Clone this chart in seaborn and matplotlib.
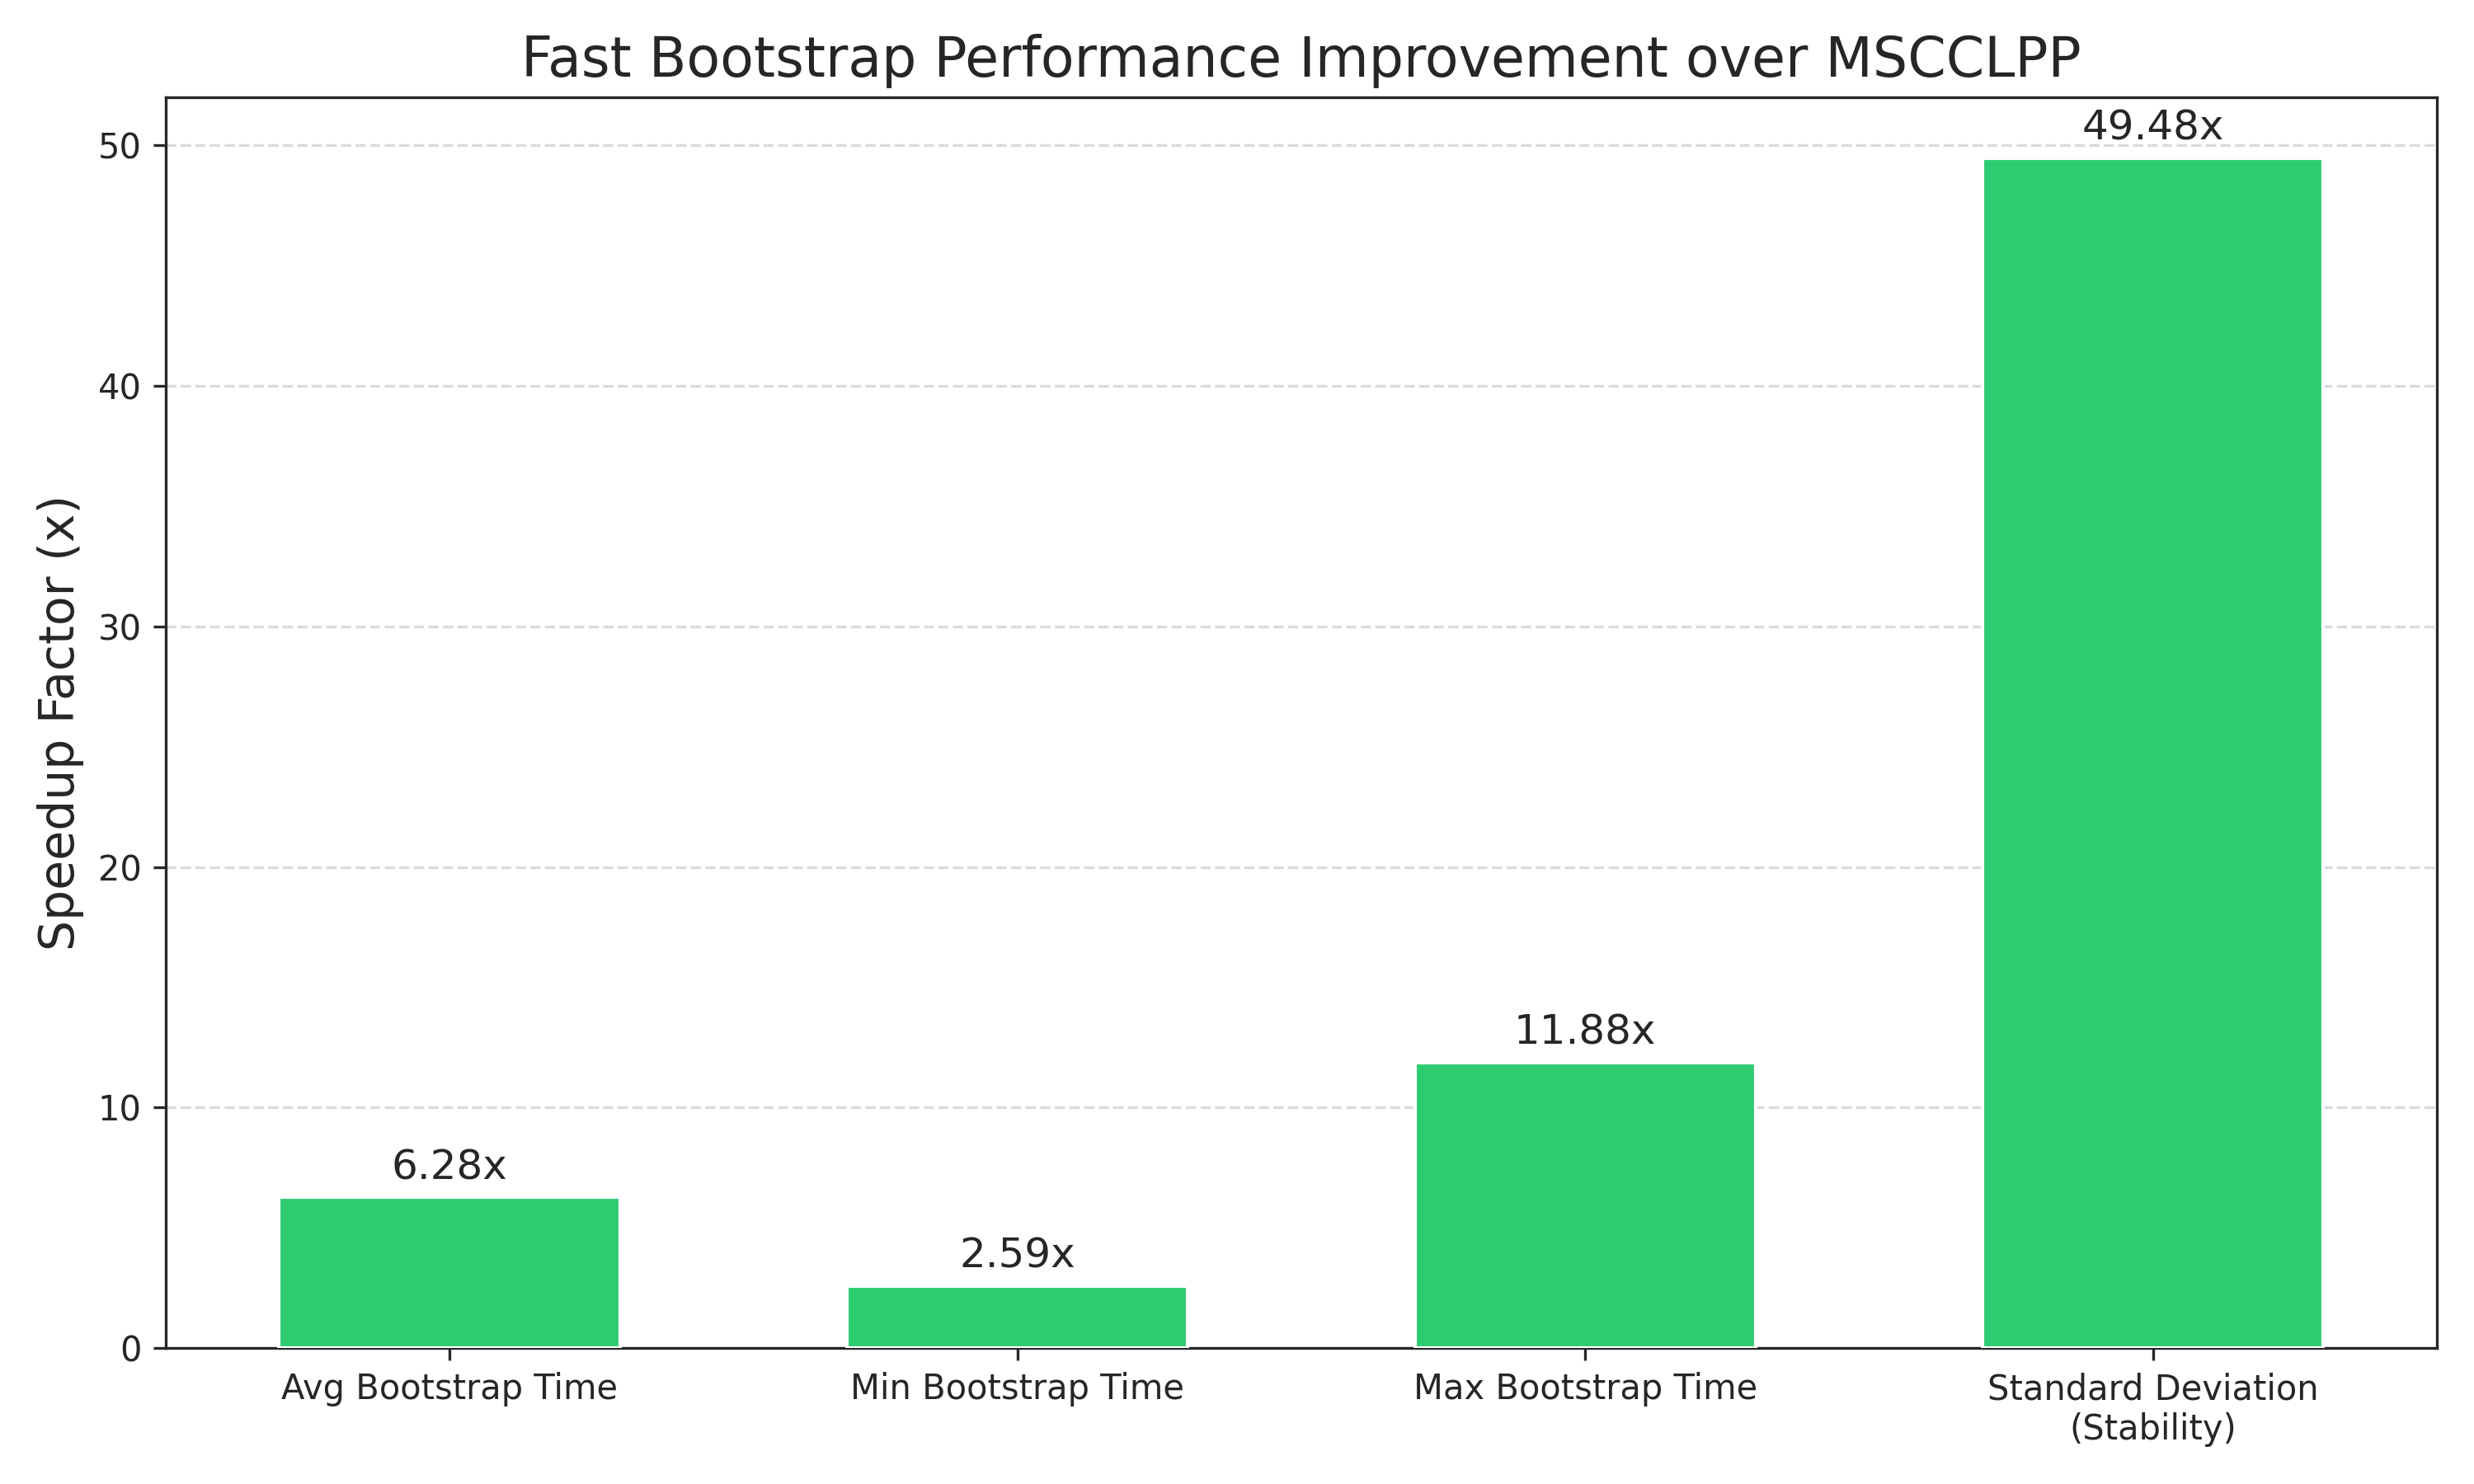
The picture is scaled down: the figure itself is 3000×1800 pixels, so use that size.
import matplotlib
matplotlib.use("Agg")
import matplotlib.pyplot as plt
import seaborn as sns
import pandas as pd

metrics = ["Avg Bootstrap Time", "Min Bootstrap Time", "Max Bootstrap Time",
           "Standard Deviation\n(Stability)"]
speedups = [6.28, 2.59, 11.88, 49.48]

df = pd.DataFrame({"metric": metrics, "speedup": speedups})

sns.set_style("ticks")
plt.rcParams['font.family'] = ['DejaVu Sans']

fig, ax = plt.subplots(figsize=(10, 6))
sns.barplot(data=df, x="metric", y="speedup", color="#2ecc71", saturation=1,
            width=0.6, ax=ax, zorder=3)
for i, v in enumerate(speedups):
    ax.text(i, v + 0.4, f"{v:.2f}x", ha="center", va="bottom", fontsize=12)

ax.set_title("Fast Bootstrap Performance Improvement over MSCCLPP", fontsize=16)
ax.set_ylabel("Speedup Factor (x)", fontsize=14)
ax.set_xlabel("")
ax.set_ylim(0, 52)
ax.yaxis.grid(True, linestyle="--", alpha=0.7, zorder=0)
ax.tick_params(labelsize=10)
fig.tight_layout()
fig.savefig("out.png", dpi=300)
